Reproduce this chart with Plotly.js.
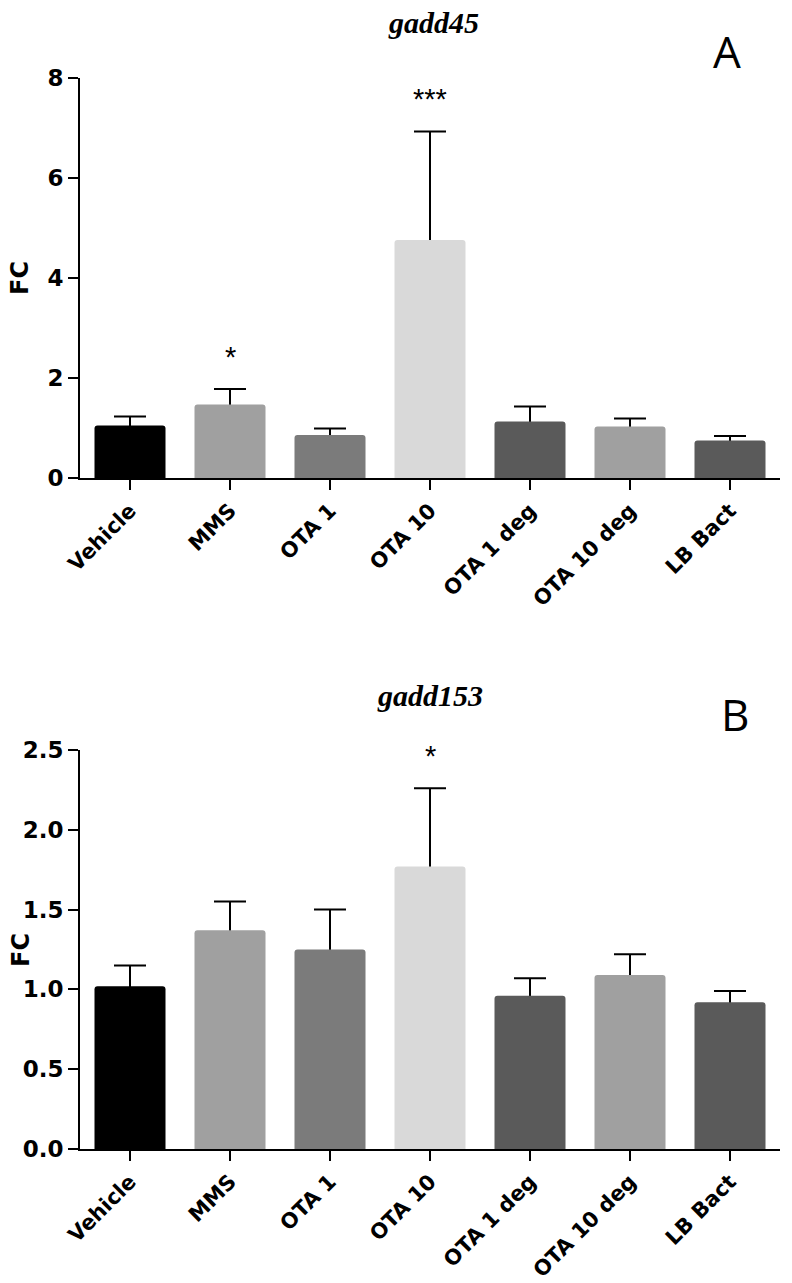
<!DOCTYPE html>
<html>
<head>
<meta charset="utf-8">
<script src="https://cdn.plot.ly/plotly-3.0.1.min.js"></script>
<style>
  html, body { margin: 0; padding: 0; background: #fff; }
  #chart { width: 792px; height: 1283px; }
</style>
</head>
<body>
<div id="chart"></div>
<script>
// ---- data ----
const categories = ["Vehicle", "MMS", "OTA 1", "OTA 10", "OTA 1 deg", "OTA 10 deg", "LB Bact"];
const barColors = ["#000000", "#a0a0a0", "#7b7b7b", "#d9d9d9", "#5a5a5a", "#a0a0a0", "#5a5a5a"];

// Panel A: gadd45
const gadd45Mean = [1.05, 1.47, 0.86, 4.76, 1.13, 1.03, 0.75];
const gadd45Err  = [0.18, 0.31, 0.13, 2.17, 0.30, 0.16, 0.09];
const gadd45Sig  = ["", "*", "", "***", "", "", ""];

// Panel B: gadd153
const gadd153Mean = [1.02, 1.37, 1.25, 1.77, 0.96, 1.09, 0.92];
const gadd153Err  = [0.13, 0.18, 0.25, 0.49, 0.11, 0.13, 0.07];
const gadd153Sig  = ["", "", "", "*", "", "", ""];

const yTicksA = [0, 2, 4, 6, 8];
const yTicksB = [0, 0.5, 1.0, 1.5, 2.0, 2.5];
const yTickTextB = ["0.0", "0.5", "1.0", "1.5", "2.0", "2.5"];

// ---- layout helpers ----
const W = 792, H = 1283;
const px = v => v / W;
const py = v => 1 - v / H;

// error bars: drawn from a transparent bar (upper arm = SEM, lower arm hidden under the real bar)
function errTrace(mean, err, xa, ya) {
  return {
    type: "bar",
    x: categories, y: mean,
    xaxis: xa, yaxis: ya,
    width: 0.71,
    marker: { color: "rgba(0,0,0,0)", line: { width: 0 } },
    error_y: {
      type: "data", symmetric: false, array: err,
      arrayminus: mean,
      color: "#000", thickness: 2, width: 16
    },
    hoverinfo: "none", showlegend: false
  };
}
function barTrace(mean, xa, ya) {
  return {
    type: "bar",
    x: categories, y: mean,
    xaxis: xa, yaxis: ya,
    width: 0.71,
    marker: { color: barColors, line: { width: 0 }, cornerradius: 3 },
    hoverinfo: "none", showlegend: false
  };
}

const tickFont = { family: "DejaVu Sans, sans-serif", size: 23, color: "#000", weight: "bold" };
const catFont = { family: "DejaVu Sans, sans-serif", size: 21, color: "#000", weight: "bold" };

function xAxis(anchor) {
  return {
    domain: [px(80), px(780)],
    anchor: anchor,
    type: "category",
    range: [-0.5, 6.5],
    showline: true, linecolor: "#000", linewidth: 2,
    ticks: "outside", ticklen: 10, tickwidth: 2, tickcolor: "#000",
    tickangle: -45,
    tickfont: catFont,
    showgrid: false, zeroline: false, fixedrange: true, automargin: false
  };
}
function yAxis(domain, anchor, range, tickvals, ticktext) {
  return {
    domain: domain,
    anchor: anchor,
    range: range,
    tickmode: "array", tickvals: tickvals, ticktext: ticktext,
    showline: true, linecolor: "#000", linewidth: 2,
    ticks: "outside", ticklen: 10, tickwidth: 2, tickcolor: "#000",
    tickfont: tickFont,
    showgrid: false, zeroline: false, fixedrange: true, automargin: false
  };
}

const traces = [
  errTrace(gadd45Mean, gadd45Err, "x", "y"),
  barTrace(gadd45Mean, "x", "y"),
  errTrace(gadd153Mean, gadd153Err, "x2", "y2"),
  barTrace(gadd153Mean, "x2", "y2")
];

const annotations = [];
function addStars(sig, mean, err, xr, yr) {
  sig.forEach((s, i) => {
    if (!s) return;
    annotations.push({
      x: categories[i], y: mean[i] + err[i], xref: xr, yref: yr,
      text: s, showarrow: false, yanchor: "bottom", yshift: 14,
      font: { family: "Liberation Sans, Arial, sans-serif", size: 29, color: "#000" }
    });
  });
}
addStars(gadd45Sig, gadd45Mean, gadd45Err, "x", "y");
addStars(gadd153Sig, gadd153Mean, gadd153Err, "x2", "y2");

// titles
annotations.push({
  x: px(433), y: py(22), xref: "paper", yref: "paper", text: "<b><i>gadd45</i></b>",
  showarrow: false, xanchor: "center", yanchor: "middle",
  font: { family: "Liberation Serif, Times New Roman, serif", size: 30, color: "#000" }
});
annotations.push({
  x: px(430), y: py(695), xref: "paper", yref: "paper", text: "<b><i>gadd153</i></b>",
  showarrow: false, xanchor: "center", yanchor: "middle",
  font: { family: "Liberation Serif, Times New Roman, serif", size: 30, color: "#000" }
});
// panel letters
annotations.push({
  x: px(727), y: py(51), xref: "paper", yref: "paper", text: "A",
  showarrow: false, xanchor: "center", yanchor: "middle",
  font: { family: "Open Sans, sans-serif", size: 44, color: "#000" }
});
annotations.push({
  x: px(735), y: py(714), xref: "paper", yref: "paper", text: "B",
  showarrow: false, xanchor: "center", yanchor: "middle",
  font: { family: "Open Sans, sans-serif", size: 44, color: "#000" }
});
// y axis titles
annotations.push({
  x: px(20), y: py(278), xref: "paper", yref: "paper", text: "<b>FC</b>", textangle: -90,
  showarrow: false, xanchor: "center", yanchor: "middle",
  font: { family: "DejaVu Sans, sans-serif", size: 24, color: "#000" }
});
annotations.push({
  x: px(21), y: py(950), xref: "paper", yref: "paper", text: "<b>FC</b>", textangle: -90,
  showarrow: false, xanchor: "center", yanchor: "middle",
  font: { family: "DejaVu Sans, sans-serif", size: 24, color: "#000" }
});

const layout = {
  width: W, height: H,
  margin: { l: 0, r: 0, t: 0, b: 0 },
  paper_bgcolor: "#fff", plot_bgcolor: "#fff",
  showlegend: false,
  barmode: "overlay",
  xaxis: xAxis("y"),
  yaxis: yAxis([py(478), py(78)], "x", [0, 8], yTicksA, yTicksA.map(String)),
  xaxis2: xAxis("y2"),
  yaxis2: yAxis([py(1149), py(750)], "x2", [0, 2.5], yTicksB, yTickTextB),
  annotations: annotations
};

Plotly.newPlot("chart", traces, layout, { staticPlot: true });
</script>
</body>
</html>
